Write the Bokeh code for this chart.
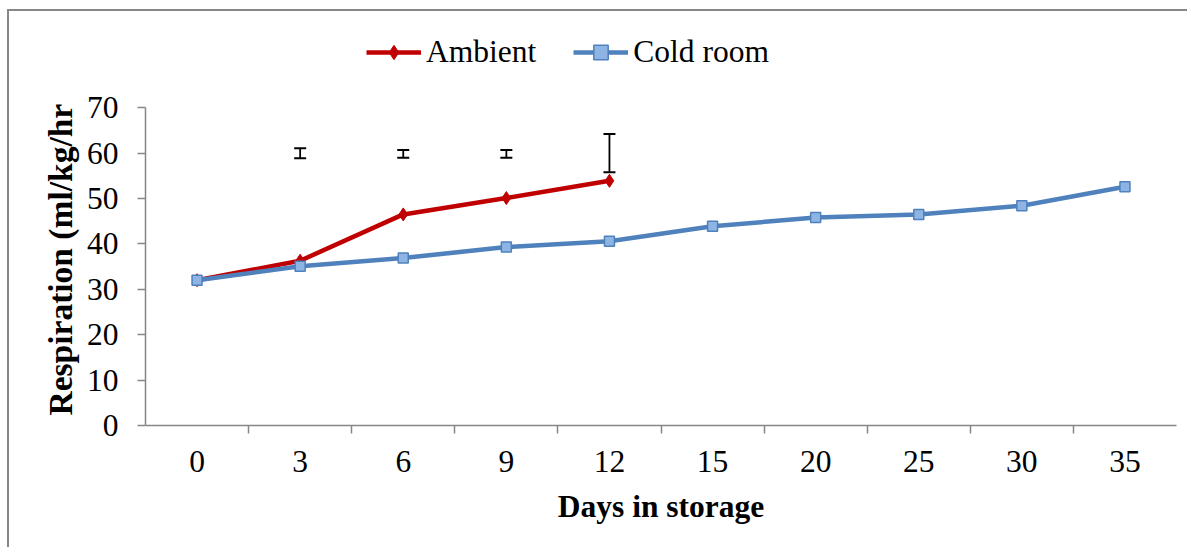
from bokeh.plotting import figure
from bokeh.models import (ColumnDataSource, FactorRange, Range1d, CategoricalAxis,
                          FixedTicker, Whisker, TeeHead, Legend, LegendItem, Title)
from bokeh.embed import file_html
from bokeh.resources import INLINE

# ---- data ----
days = ["0", "3", "6", "9", "12", "15", "20", "25", "30", "35"]
ambient_days = ["0", "3", "6", "9", "12"]
ambient = [32.0, 36.3, 46.5, 50.1, 53.9]
cold_room = [32.0, 35.1, 36.9, 39.3, 40.6, 43.9, 45.8, 46.5, 48.4, 52.6]
err_days = ["3", "6", "9", "12"]
err_lower = [58.9, 59.0, 59.0, 55.8]
err_upper = [61.1, 60.7, 60.7, 64.2]
y_ticks = [0, 10, 20, 30, 40, 50, 60, 70]

FONT = "Liberation Serif"
FS = "31.5px"
AXIS_GREY = "#868686"
RED = "#C00000"
BLUE = "#4F81BD"

# frame extends above the axis so the legend can sit inside it; axis bounds stop at 70
p = figure(width=1180, height=538, x_range=FactorRange(*days, range_padding=0),
           y_range=Range1d(0, 91.2), x_axis_location=None, y_axis_location="left",
           output_backend="svg", toolbar_location=None,
           min_border_left=136, min_border_right=13, min_border_top=0, min_border_bottom=124)
p.styles = {"margin-left": "7px", "margin-top": "9px",
            "border-left": "2px solid #878787", "border-top": "2px solid #878787"}
p.outline_line_color = None
p.xgrid.visible = False
p.ygrid.visible = False
p.background_fill_color = "white"
p.border_fill_color = "white"

# y axis
ya = p.yaxis[0]
ya.ticker = FixedTicker(ticks=y_ticks)
ya.bounds = (0, 70)
ya.axis_line_color = AXIS_GREY
ya.axis_line_width = 1.5
ya.major_tick_line_color = AXIS_GREY
ya.major_tick_line_width = 1.5
ya.major_tick_in = 0
ya.major_tick_out = 8
ya.minor_tick_line_color = None
ya.major_label_text_font = FONT
ya.major_label_text_font_size = FS
ya.major_label_text_color = "black"
ya.major_label_standoff = 19

# y axis title, placed at the bottom of the left panel and offset upward
ytitle = Title(text="Respiration (ml/kg/hr", align="left", offset=10,
               text_font=FONT, text_font_size="33.5px", text_font_style="bold",
               text_color="black", standoff=10)
p.add_layout(ytitle, "left")

# x axis: boundary ticks (category edges) + label axis
edges = ["e%d" % i for i in range(len(days) + 1)]
p.extra_x_ranges = {"edges": FactorRange(*edges, range_padding=-0.5, range_padding_units="absolute")}
tick_axis = CategoricalAxis(x_range_name="edges")
tick_axis.axis_line_color = AXIS_GREY
tick_axis.axis_line_width = 1.5
tick_axis.major_tick_line_color = AXIS_GREY
tick_axis.major_tick_line_width = 1.5
tick_axis.major_tick_in = 0
tick_axis.major_tick_out = 8
tick_axis.minor_tick_line_color = None
tick_axis.major_label_text_font_size = "1px"
tick_axis.major_label_text_color = None
tick_axis.major_label_standoff = 0
p.add_layout(tick_axis, "below")

label_axis = CategoricalAxis()
label_axis.axis_line_color = None
label_axis.major_tick_line_color = None
label_axis.minor_tick_line_color = None
label_axis.major_label_text_font = FONT
label_axis.major_label_text_font_size = FS
label_axis.major_label_text_color = "black"
label_axis.major_label_standoff = 11
label_axis.axis_label = "Days in storage"
label_axis.axis_label_text_font = FONT
label_axis.axis_label_text_font_size = FS
label_axis.axis_label_text_font_style = "bold"
label_axis.axis_label_text_color = "black"
label_axis.axis_label_standoff = 14
p.add_layout(label_axis, "below")

# series (Ambient first, Cold room drawn on top)
amb_src = ColumnDataSource(dict(x=ambient_days, y=ambient))
cold_src = ColumnDataSource(dict(x=days, y=cold_room))

amb_line = p.line("x", "y", source=amb_src, line_color=RED, line_width=4.5)
amb_pts = p.scatter("x", "y", source=amb_src, marker="diamond", size=13,
                    fill_color=RED, line_color=RED, line_width=1)
cold_line = p.line("x", "y", source=cold_src, line_color=BLUE, line_width=4.5)
cold_pts = p.scatter("x", "y", source=cold_src, marker="square", size=10,
                     fill_color="#8EB4E3", line_color=BLUE, line_width=1.5)

# error bars
err_src = ColumnDataSource(dict(x=err_days, lower=err_lower, upper=err_upper))
wh = Whisker(base="x", lower="lower", upper="upper", source=err_src, dimension="height",
             line_color="black", line_width=1.8,
             upper_head=TeeHead(size=12, line_color="black", line_width=2),
             lower_head=TeeHead(size=12, line_color="black", line_width=2))
p.add_layout(wh)

legend = Legend(items=[LegendItem(label="Ambient", renderers=[amb_line, amb_pts]),
                       LegendItem(label="Cold room", renderers=[cold_line, cold_pts])],
                location=(221, 355), orientation="horizontal",
                label_text_font=FONT, label_text_font_size=FS, label_text_color="black",
                glyph_width=55, glyph_height=36, label_height=36, label_standoff=5,
                spacing=37, padding=0, margin=0,
                border_line_color=None, background_fill_alpha=0)
p.add_layout(legend)

open("out.html", "w").write(file_html(p, INLINE))
